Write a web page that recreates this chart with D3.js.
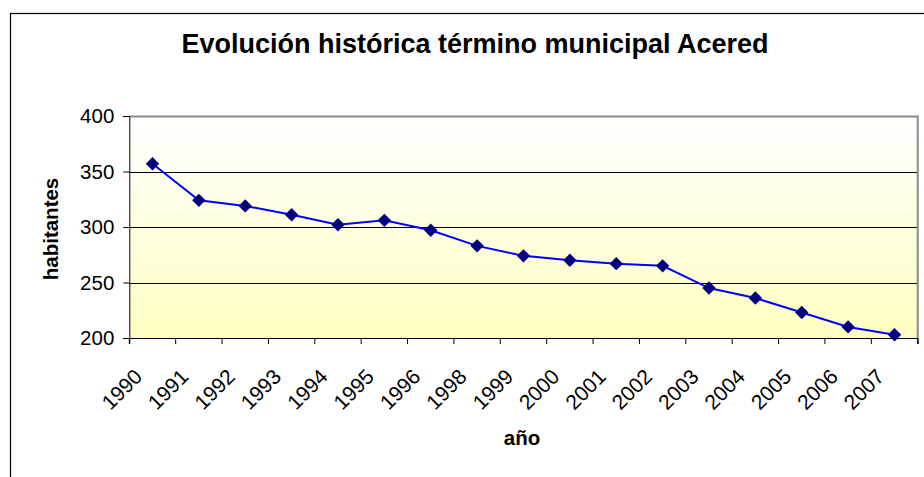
<!DOCTYPE html>
<html>
<head>
<meta charset="utf-8">
<script src="https://cdn.jsdelivr.net/npm/d3@7"></script>
<style>
  body { margin: 0; background: #fff; }
  text { font-family: Arial, "Liberation Sans", sans-serif; }
</style>
</head>
<body>
<div id="chart"></div>
<script>
// Data
const years = ['1990','1991','1992','1993','1994','1995','1996','1998','1999','2000','2001','2002','2003','2004','2005','2006','2007']
const habitantes = [357, 324, 319, 311, 302, 306, 297, 283, 274, 270, 267, 265, 245, 236, 223, 210, 203]
const yTicks = [200, 250, 300, 350, 400]

const data = years.map((y, i) => ({year: y, value: habitantes[i]}))

// SVG
const width = 924, height = 477
const svg = d3.select('#chart').append('svg')
  .attr('width', width)
  .attr('height', height)

// plot area
const plot = {left: 129.3, right: 917.7, top: 116, bottom: 338}

// gradient for the plot background
const defs = svg.append('defs')
const grad = defs.append('linearGradient')
  .attr('id', 'bg')
  .attr('x1', 0).attr('y1', 0).attr('x2', 0).attr('y2', 1)
grad.append('stop').attr('offset', '0%').attr('stop-color', '#ffffff')
grad.append('stop').attr('offset', '100%').attr('stop-color', '#ffffc2')

// outer chart border (runs off the right and bottom)
svg.append('rect')
  .attr('x', 10.5).attr('y', 13.5)
  .attr('width', 940).attr('height', 500)
  .attr('fill', '#fff')
  .attr('stroke', '#000')
  .attr('stroke-width', 1.2)

// Scales
const x = d3.scaleBand().domain(years).range([plot.left, plot.right]).padding(0)
const y = d3.scaleLinear().domain([200, 400]).range([plot.bottom, plot.top])

// background
svg.append('rect')
  .attr('x', plot.left).attr('y', plot.top)
  .attr('width', plot.right - plot.left)
  .attr('height', plot.bottom - plot.top)
  .attr('fill', 'url(#bg)')

// grid lines
svg.append('g')
  .selectAll('line')
  .data(yTicks.filter(d => d > 200 && d < 400))
  .enter()
  .append('line')
  .attr('x1', plot.left).attr('x2', plot.right)
  .attr('y1', d => Math.round(y(d)) + 0.5)
  .attr('y2', d => Math.round(y(d)) + 0.5)
  .attr('stroke', '#000')
  .attr('stroke-width', 1)

// gray top / right plot border
svg.append('path')
  .attr('d', `M${plot.left},${plot.top + 0.5}H${plot.right}V${plot.bottom}`)
  .attr('fill', 'none')
  .attr('stroke', '#8a8a8a')
  .attr('stroke-width', 2)

// Axes
const yAxis = d3.axisLeft(y)
  .tickValues(yTicks)
  .tickSize(6)
  .tickPadding(9)
const yAxisGroup = svg.append('g')
  .attr('transform', `translate(${plot.left}, 0)`)
  .call(yAxis)
yAxisGroup.select('.domain').attr('stroke', '#000')
yAxisGroup.selectAll('text')
  .attr('font-size', '20.5px')
  .attr('fill', '#000')

const xAxis = d3.axisBottom(x)
  .tickSize(6)
  .tickFormat(d => d)
const xAxisGroup = svg.append('g')
  .attr('transform', `translate(0, ${plot.bottom})`)
  .call(xAxis)
// ticks sit at the band edges, not the centres
xAxisGroup.selectAll('.tick').remove()
xAxisGroup.selectAll('line.edge')
  .data(years.concat(['end']))
  .enter()
  .append('line')
  .attr('class', 'edge')
  .attr('x1', (d, i) => plot.left + i * x.step())
  .attr('x2', (d, i) => plot.left + i * x.step())
  .attr('y1', 0).attr('y2', 6)
  .attr('stroke', '#000')
xAxisGroup.select('.domain').attr('stroke', '#000')
xAxisGroup.selectAll('text.lbl')
  .data(years)
  .enter()
  .append('text')
  .attr('class', 'lbl')
  .attr('text-anchor', 'end')
  .attr('font-size', '21px')
  .attr('fill', '#000')
  .attr('transform', d => `translate(${x(d) + x.bandwidth() / 2 - 9}, 40) rotate(-45)`)
  .text(d => d)

// Line + markers
const line = d3.line()
  .x(d => x(d.year) + x.bandwidth() / 2)
  .y(d => y(d.value))

svg.append('path')
  .datum(data)
  .attr('d', line)
  .attr('fill', 'none')
  .attr('stroke', '#0000ff')
  .attr('stroke-width', 2)

svg.selectAll('path.marker')
  .data(data)
  .enter()
  .append('path')
  .attr('class', 'marker')
  .attr('d', d3.symbol(d3.symbolSquare, 90))
  .attr('transform', d => `translate(${x(d.year) + x.bandwidth() / 2}, ${y(d.value)}) rotate(45)`)
  .attr('fill', '#000080')

// Titles
svg.append('text')
  .attr('x', 475).attr('y', 53)
  .attr('text-anchor', 'middle')
  .attr('font-size', '27px')
  .attr('font-weight', 'bold')
  .text('Evolución histórica término municipal Acered')

svg.append('text')
  .attr('transform', 'translate(58, 229) rotate(-90)')
  .attr('text-anchor', 'middle')
  .attr('font-size', '20.5px')
  .attr('font-weight', 'bold')
  .text('habitantes')

svg.append('text')
  .attr('x', 522).attr('y', 445)
  .attr('text-anchor', 'middle')
  .attr('font-size', '20.5px')
  .attr('font-weight', 'bold')
  .text('año')
</script>
</body>
</html>
